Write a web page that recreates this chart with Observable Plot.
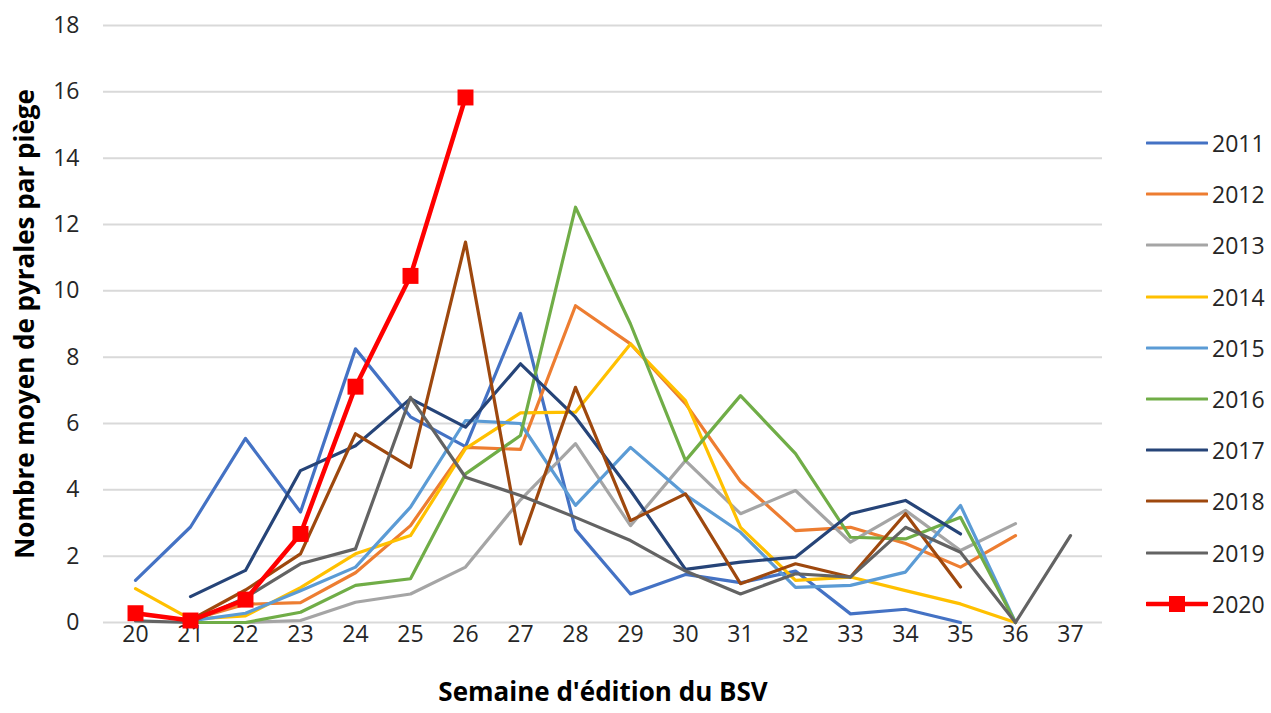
<!DOCTYPE html>
<html>
<head>
<meta charset="utf-8">
<script src="https://cdn.jsdelivr.net/npm/d3@7"></script>
<script src="https://cdn.jsdelivr.net/npm/@observablehq/plot@0.6"></script>
<style>
  html, body { margin: 0; padding: 0; background: #fff; }
  #wrap { position: relative; width: 1271px; height: 713px; font-family: "Open Sans", sans-serif; }
  #legend { position: absolute; left: 1146px; top: 0; }
  .item { position: absolute; left: 0; display: flex; align-items: center; height: 30px; width: 125px; }
  .item span { font-size: 23px; color: #262626; margin-left: 4px; }
</style>
</head>
<body>
<div id="wrap"><div id="chart"></div><div id="legend"></div></div>
<script>
const weeks = [20,21,22,23,24,25,26,27,28,29,30,31,32,33,34,35,36,37];
const years = ["2011","2012","2013","2014","2015","2016","2017","2018","2019","2020"];
const colors = ["#4472C4","#ED7D31","#A5A5A5","#FFC000","#5B9BD5","#70AD47","#264478","#9E480E","#636363","#FF0000"];
const yTicks = [0,2,4,6,8,10,12,14,16,18];

const v2011 = [1.27,2.88,5.55,3.33,8.25,6.2,5.3,9.32,2.8,0.86,1.45,1.2,1.55,0.26,0.4,0.0,null,null];
const v2012 = [null,0.08,0.55,0.6,1.5,2.92,5.28,5.22,9.55,8.4,6.6,4.25,2.77,2.87,2.38,1.67,2.62,null];
const v2013 = [null,0,0,0.06,0.61,0.86,1.67,3.7,5.39,2.92,4.88,3.28,3.98,2.42,3.38,2.17,2.98,null];
const v2014 = [1.02,0.1,0.2,1.05,2.07,2.62,5.24,6.32,6.34,8.4,6.69,2.87,1.27,1.37,0.96,0.56,0,null];
const v2015 = [null,0.05,0.28,0.96,1.67,3.48,6.09,6.0,3.53,5.28,3.85,2.72,1.06,1.12,1.52,3.53,0,null];
const v2016 = [null,0,0,0.31,1.12,1.32,4.48,5.64,12.52,9.0,4.88,6.84,5.09,2.57,2.52,3.17,0,null];
const v2017 = [null,0.78,1.57,4.58,5.33,6.75,5.89,7.8,6.19,3.98,1.6,1.82,1.97,3.28,3.68,2.67,null,null];
const v2018 = [null,0.08,0.98,2.07,5.69,4.68,11.47,2.37,7.09,3.07,3.88,1.17,1.77,1.37,3.28,1.07,null,null];
const v2019 = [0.05,0,0.75,1.77,2.22,6.79,4.38,3.83,3.17,2.47,1.55,0.86,1.47,1.37,2.87,2.12,0,2.62];
const v2020 = [0.28,0.06,0.69,2.67,7.11,10.45,15.83,null,null,null,null,null,null,null,null,null,null,null];

const seriesValues = [v2011,v2012,v2013,v2014,v2015,v2016,v2017,v2018,v2019,v2020];
const rows = [];
years.forEach((yr, i) => {
  seriesValues[i].forEach((v, j) => {
    if (v !== null) rows.push({year: yr, week: weeks[j], value: v});
  });
});
const past = rows.filter(d => d.year !== "2020");
const cur = rows.filter(d => d.year === "2020");

const chart = Plot.plot({
  width: 1271,
  height: 713,
  marginLeft: 103,
  marginRight: 169,
  marginTop: 25,
  marginBottom: 91,
  style: {fontFamily: "Open Sans, sans-serif", fontSize: "23px", color: "#262626", background: "#fff"},
  x: {type: "point", domain: weeks, padding: 0.5},
  y: {domain: [0, 18], ticks: yTicks},
  color: {domain: years, range: colors},
  marks: [
    Plot.gridY(yTicks, {stroke: "#d9d9d9", strokeOpacity: 1, strokeWidth: 2}),
    Plot.axisX({tickSize: 0, tickPadding: 3, fontSize: 23, label: null}),
    Plot.axisY(yTicks, {tickSize: 0, tickPadding: 24, fontSize: 23, label: null}),
    Plot.line(past, {x: "week", y: "value", z: "year", stroke: "year", strokeWidth: 3.2}),
    Plot.line(cur, {x: "week", y: "value", stroke: "year", strokeWidth: 4.5}),
    Plot.dot(cur, {x: "week", y: "value", fill: "year", symbol: "square", r: 9}),
    Plot.text(["Semaine d'édition du BSV"], {frameAnchor: "bottom", dy: 78, fontWeight: "bold", fontSize: 26, fill: "#000"}),
    Plot.text(["Nombre moyen de pyrales par piège"], {frameAnchor: "left", dx: -78, rotate: -90, textAnchor: "middle", lineAnchor: "middle", fontWeight: "bold", fontSize: 26, fill: "#000"})
  ]
});
document.getElementById("chart").appendChild(chart);

const legend = document.getElementById("legend");
years.forEach((yr, i) => {
  const cy = 143 + i * 51.2;
  const div = document.createElement("div");
  div.className = "item";
  div.style.top = (cy - 15) + "px";
  const isCur = yr === "2020";
  div.innerHTML = `<svg width="62" height="30"><line x1="1" x2="61" y1="15" y2="15" stroke="${colors[i]}" stroke-width="${isCur ? 4.5 : 3}" stroke-linecap="round"/>${isCur ? `<rect x="23" y="7" width="16" height="16" fill="${colors[i]}"/>` : ""}</svg><span>${yr}</span>`;
  legend.appendChild(div);
});
</script>
</body>
</html>
